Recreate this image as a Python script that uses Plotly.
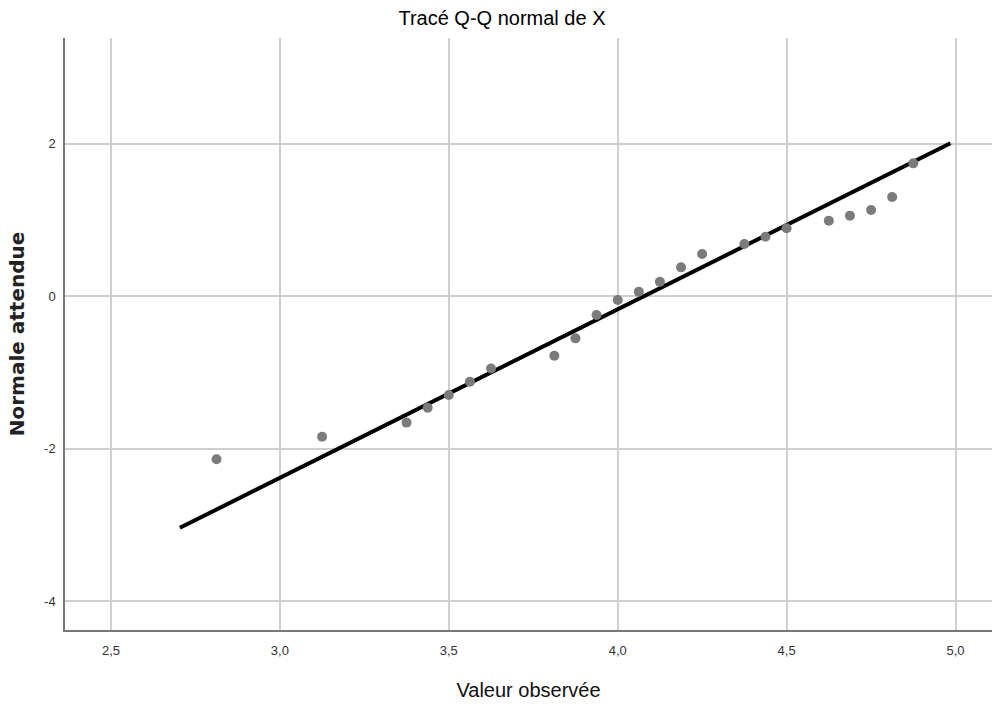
import plotly.graph_objects as go

# Observed values (x) and expected normal quantiles (y)
observed = [2.8125, 3.125, 3.375, 3.4375, 3.5, 3.5625, 3.625, 3.8125, 3.875, 3.9375,
            4.0, 4.0625, 4.125, 4.1875, 4.25, 4.375, 4.4375, 4.5, 4.625, 4.6875,
            4.75, 4.8125, 4.875]
expected = [-2.14, -1.845, -1.66, -1.465, -1.298, -1.124, -0.95, -0.783, -0.555, -0.249,
            -0.052, 0.056, 0.188, 0.376, 0.551, 0.682, 0.778, 0.888, 0.988, 1.054,
            1.128, 1.298, 1.74]

# Reference line endpoints
line_x = [2.704, 4.985]
line_y = [-3.04, 2.003]

x_ticks = [2.5, 3.0, 3.5, 4.0, 4.5, 5.0]
x_tick_labels = ["2,5", "3,0", "3,5", "4,0", "4,5", "5,0"]
y_ticks = [-4, -2, 0, 2]
y_tick_labels = ["-4", "-2", "0", "2"]

narrow = "Liberation Sans Narrow, Arial Narrow, Liberation Sans, Arial, sans-serif"

fig = go.Figure()
fig.add_trace(go.Scatter(
    x=line_x, y=line_y, mode="lines",
    line=dict(color="#000000", width=4),
    hoverinfo="skip", showlegend=False,
))
fig.add_trace(go.Scatter(
    x=observed, y=expected, mode="markers",
    marker=dict(color="#7b7b7b", size=10, line=dict(width=0)),
    showlegend=False,
))

fig.update_layout(
    width=994, height=706,
    margin=dict(l=65, r=2, t=38, b=76),
    paper_bgcolor="white", plot_bgcolor="white",
    separators=", ",
    title=dict(text="Tracé Q-Q normal de X", x=0.505, xanchor="center",
               y=0.975, yanchor="middle",
               font=dict(family=narrow, size=20, color="#000000")),
    xaxis=dict(
        range=[2.364, 5.108], tickvals=x_ticks, ticktext=x_tick_labels,
        showgrid=True, gridcolor="#cfcfcf", gridwidth=1.5,
        zeroline=False, showline=True, linecolor="#777777", linewidth=1.5,
        ticks="", ticklen=0, ticklabelstandoff=8,
        tickfont=dict(family=narrow, size=13, color="#333333"),
        title=dict(text="Valeur observée", standoff=26,
                   font=dict(family=narrow, size=20, color="#111111")),
    ),
    yaxis=dict(
        range=[-4.38, 3.384], tickvals=y_ticks, ticktext=y_tick_labels,
        showgrid=True, gridcolor="#cfcfcf", gridwidth=1.5,
        zeroline=False, showline=True, linecolor="#777777", linewidth=1.5,
        ticks="", ticklen=0, ticklabelstandoff=5,
        tickfont=dict(family=narrow, size=13, color="#333333"),
        title=dict(text="<b>Normale attendue</b>", standoff=14,
                   font=dict(family="DejaVu Sans, Arial, sans-serif", size=20, color="#222222")),
    ),
)

fig.write_html("out.html", config={"displayModeBar": False},
               post_script="document.body.style.margin='0';")
